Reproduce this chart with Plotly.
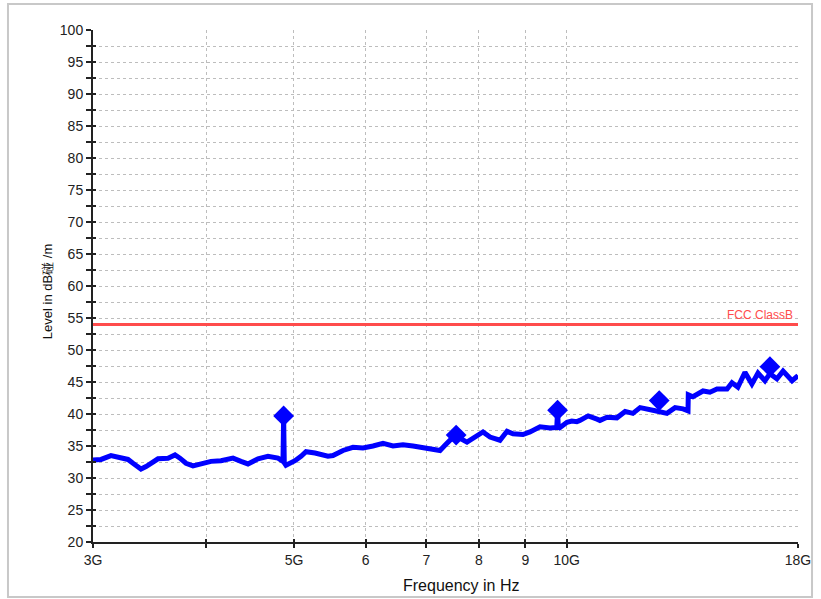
import plotly.graph_objects as go
import math

# ---- data (frequency in GHz, level in dB) ----
freq_ghz = [3.000, 3.062, 3.140, 3.221, 3.279, 3.321, 3.389, 3.433, 3.476, 3.539,
            3.630, 3.695, 3.742, 3.800, 3.868, 3.948, 4.049, 4.153, 4.282, 4.370,
            4.448, 4.563, 4.680, 4.801, 4.838, 4.862, 4.870, 4.878, 4.899, 5.013,
            5.090, 5.155, 5.274, 5.355, 5.451, 5.521, 5.663, 5.809, 5.958, 6.112,
            6.269, 6.431, 6.596, 6.766, 6.940, 7.065, 7.247, 7.339, 7.433, 7.528,
            7.625, 7.761, 7.881, 8.083, 8.228, 8.440, 8.592, 8.724, 8.948, 9.109,
            9.343, 9.584, 9.750, 9.770, 9.790, 10.007, 10.13, 10.26, 10.34, 10.56,
            10.80, 10.88, 11.08, 11.36, 11.60, 11.83, 12.05, 12.29, 12.52, 12.90,
            13.17, 13.44, 13.61, 13.62, 13.78, 14.14, 14.39, 14.65, 15.03, 15.22,
            15.45, 15.73, 16.01, 16.26, 16.55, 16.76, 17.06, 17.33, 17.73, 18.00]
level_db = [32.8, 32.9, 33.5, 33.1, 32.9, 32.3, 31.4, 31.8, 32.3, 33.0,
            33.1, 33.6, 33.1, 32.3, 31.9, 32.2, 32.6, 32.7, 33.1, 32.6,
            32.2, 33.0, 33.4, 33.1, 32.7, 32.6, 39.6, 32.4, 32.0, 32.7,
            33.4, 34.1, 33.9, 33.6, 33.4, 33.5, 34.3, 34.8, 34.7, 35.0,
            35.4, 35.0, 35.2, 35.0, 34.8, 34.5, 34.3, 35.1, 35.9, 36.4,
            36.2, 35.6, 36.2, 37.2, 36.4, 35.9, 37.3, 36.9, 36.8, 37.2,
            38.0, 37.8, 37.9, 40.5, 37.7, 38.7, 38.9, 38.8, 39.0, 39.7,
            39.2, 39.0, 39.5, 39.4, 40.4, 40.1, 41.0, 40.8, 40.5, 40.1,
            41.0, 40.8, 40.5, 43.0, 42.7, 43.6, 43.4, 43.9, 43.9, 44.9,
            44.2, 46.5, 44.7, 46.4, 45.2, 46.3, 45.5, 46.7, 45.2, 46.0]

peak_freq_ghz = [4.87, 7.55, 9.77, 12.65, 16.76]
peak_level_db = [39.7, 36.7, 40.6, 42.1, 47.4]

limit_freq_ghz = [3.0, 18.0]
limit_level_db = [54.0, 54.0]
limit_name = "FCC ClassB"

x_tickvals = [3, 4, 5, 6, 7, 8, 9, 10, 18]
x_ticktext = ["3G", "", "5G", "6", "7", "8", "9", "10G", "18G"]
y_tickvals = list(range(20, 101, 5))

x_title = "Frequency in Hz"
y_title = "Level in dB碰 /m"

FONT = "Liberation Sans, Arial, sans-serif"
BLUE = "#0000FF"
RED = "#FF4C4C"
GRID = "#BDBDBD"

fig = go.Figure()

fig.add_trace(go.Scatter(x=limit_freq_ghz, y=limit_level_db, mode="lines",
                         line=dict(color=RED, width=3), hoverinfo="skip",
                         showlegend=False))
fig.add_trace(go.Scatter(x=freq_ghz, y=level_db, mode="lines",
                         line=dict(color=BLUE, width=5), showlegend=False))
fig.add_trace(go.Scatter(x=peak_freq_ghz, y=peak_level_db, mode="markers",
                         marker=dict(symbol="diamond", size=16, color=BLUE),
                         showlegend=False))
# helper trace for the overlay axes (crossing ticks)
fig.add_trace(go.Scatter(x=[None], y=[None], xaxis="x2", yaxis="y2",
                         showlegend=False, hoverinfo="skip"))

xr = [math.log10(3), math.log10(18)]

fig.update_layout(
    width=821, height=599,
    margin=dict(l=93, r=23, t=30, b=57),
    paper_bgcolor="white", plot_bgcolor="white",
    font=dict(family=FONT, size=13, color="#222222"),
    xaxis=dict(type="log", range=xr, tickvals=x_tickvals, ticktext=x_ticktext,
               ticks="outside", ticklen=4, tickwidth=2, tickcolor="#222",
               showline=True, linecolor="#222", linewidth=2, automargin=False,
               showgrid=True, gridcolor=GRID, griddash="dot", gridwidth=1,
               zeroline=False, tickfont=dict(size=14)),
    yaxis=dict(range=[20, 100], tickvals=y_tickvals, automargin=False,
               ticks="outside", ticklen=5, tickwidth=2, tickcolor="#222",
               showline=True, linecolor="#222", linewidth=2,
               showgrid=True, gridcolor=GRID, griddash="dot", gridwidth=1,
               zeroline=False, tickfont=dict(size=14),
               minor=dict(dtick=2.5, tick0=20, ticks="outside", ticklen=5,
                          tickwidth=2, tickcolor="#222", showgrid=True,
                          gridcolor=GRID, griddash="dot", gridwidth=1)),
    xaxis2=dict(type="log", range=xr, tickvals=x_tickvals, overlaying="x",
                anchor="y", ticks="inside", ticklen=3, tickwidth=2,
                tickcolor="#222", showticklabels=False, showgrid=False,
                showline=False, zeroline=False, automargin=False),
    yaxis2=dict(range=[20, 100], dtick=2.5, tick0=20, overlaying="y",
                anchor="x", side="left", ticks="inside", ticklen=3,
                tickwidth=2, tickcolor="#222", showticklabels=False,
                showgrid=False, showline=False, zeroline=False, automargin=False),
    annotations=[
        dict(text=limit_name, x=xr[1], y=limit_level_db[-1], xref="x", yref="y",
             xanchor="right", yanchor="bottom", xshift=-3, yshift=0,
             showarrow=False, font=dict(color=RED, size=12, family=FONT)),
        dict(text=x_title, x=0.523, y=0, xref="paper", yref="paper",
             xanchor="center", yanchor="middle", yshift=-43, showarrow=False,
             font=dict(size=16, family=FONT, color="#111")),
        dict(text=y_title, x=0, y=0.488, xref="paper", yref="paper",
             xanchor="center", yanchor="middle", xshift=-46, textangle=-90,
             showarrow=False, font=dict(size=13, family=FONT, color="#111")),
    ],
    shapes=[dict(type="rect", xref="paper", yref="paper",
                 x0=-0.1206, x1=1.0199, y0=-0.1074, y1=1.0508,
                 line=dict(color="#C8C8C8", width=2), layer="below")],
)

fig.write_html("out.html")
